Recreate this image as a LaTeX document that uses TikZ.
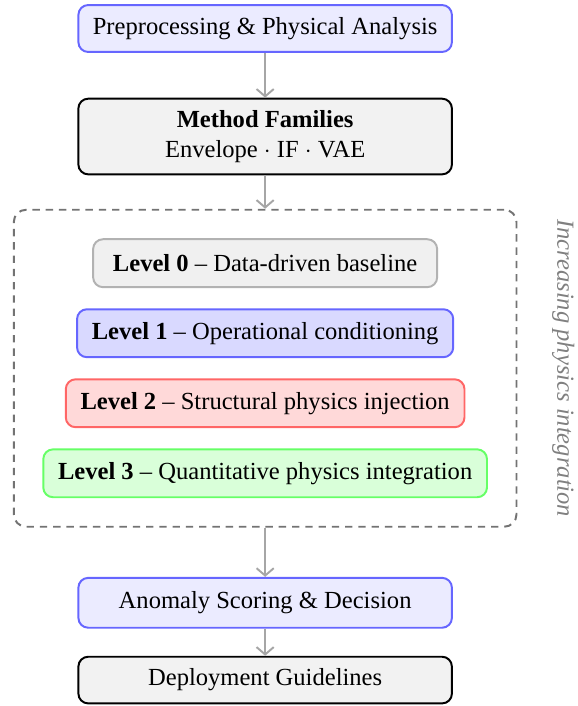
\documentclass[tikz,border=0pt]{standalone}
\usepackage{fontspec}
\setmainfont{Liberation Serif}
\usepackage{tikz}
\usetikzlibrary{arrows.meta,positioning,fit}

\begin{document}
\begin{tikzpicture}[
    mainbox/.style={rectangle, draw, rounded corners=4pt, align=center, thick, minimum width=152pt, minimum height=19.1pt, inner sep=3pt},
    levelbox/.style={rectangle, draw, rounded corners=4pt, align=center, thick, minimum width=140pt, minimum height=19.5pt, inner xsep=6pt},
    dashbox/.style={rectangle, draw=black!55, dashed, dash pattern=on 3pt off 2.4pt, rounded corners=5pt, thick, inner sep=11.6pt},
    sidelabel/.style={font=\itshape, text=black!50},
    arrow/.style={-{Straight Barb[length=3pt, width=7pt]}, thick, draw=black!35}
  ]
    \useasboundingbox (-107.9pt,11.6pt) rectangle (127pt,-275.7pt);
    \node[mainbox, fill=blue!8, draw=blue!60] (pre) {Preprocessing \& Physical Analysis};
    \node[mainbox, fill=black!5, draw=black, minimum height=30.8pt, below=18.2pt of pre] (fam) {\textbf{Method Families}\\Envelope $\cdot$ IF $\cdot$ VAE};
    % physics levels
    \node[levelbox, fill=black!6, draw=black!30, below=25.6pt of fam] (lvl0) {\textbf{Level 0} -- Data-driven baseline};
    \node[levelbox, fill=blue!15, draw=blue!60, below=8.2pt of lvl0] (lvl1) {\textbf{Level 1} -- Operational conditioning};
    \node[levelbox, fill=red!15, draw=red!60, below=8.2pt of lvl1] (lvl2) {\textbf{Level 2} -- Structural physics injection};
    \node[levelbox, fill=green!15, draw=green!60, below=8.2pt of lvl2] (lvl3) {\textbf{Level 3} -- Quantitative physics integration};
    \node[dashbox, fit=(lvl0)(lvl1)(lvl2)(lvl3)] (levels) {};
    \node[sidelabel, rotate=-90, anchor=south] (side) at ([xshift=10.5pt]levels.east) {Increasing physics integration};
    \node[mainbox, fill=blue!8, draw=blue!60, minimum height=20.3pt, below=20pt of levels] (score) {Anomaly Scoring \& Decision};
    \node[mainbox, fill=black!5, draw=black, minimum height=19pt, below=11pt of score] (dep) {Deployment Guidelines};
    \draw[arrow] (pre) -- (fam);
    \draw[arrow] (fam) -- (levels);
    \draw[arrow] (levels) -- (score);
    \draw[arrow] (score) -- (dep);
  \end{tikzpicture}
\end{document}
